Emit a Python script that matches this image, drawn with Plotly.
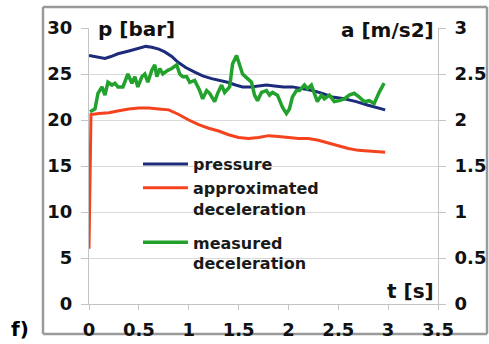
import plotly.graph_objects as go

# ---- data ----
t_pressure = [0.0, 0.1, 0.16, 0.22, 0.29, 0.4, 0.5, 0.57, 0.63, 0.7, 0.76, 0.83, 0.89, 0.97, 1.06, 1.14, 1.23, 1.31, 1.39, 1.47, 1.54, 1.62, 1.7, 1.78, 1.86, 1.95, 2.04, 2.14, 2.24, 2.34, 2.44, 2.56, 2.68, 2.8, 2.9, 2.97]
pressure = [27.0, 26.8, 26.7, 26.9, 27.2, 27.5, 27.8, 28.0, 27.9, 27.7, 27.4, 26.9, 26.3, 25.7, 25.2, 24.8, 24.5, 24.3, 24.1, 23.8, 23.6, 23.6, 23.7, 23.8, 23.7, 23.6, 23.6, 23.4, 23.2, 22.9, 22.5, 22.3, 22.0, 21.6, 21.3, 21.1]

t_approx = [0.0, 0.02, 0.1, 0.2, 0.3, 0.4, 0.5, 0.6, 0.7, 0.8, 0.9, 1.0, 1.1, 1.2, 1.3, 1.4, 1.5, 1.6, 1.7, 1.8, 1.9, 2.0, 2.1, 2.2, 2.3, 2.4, 2.5, 2.6, 2.7, 2.8, 2.9, 2.97]
approx_decel = [0.6, 2.06, 2.07, 2.08, 2.10, 2.12, 2.13, 2.13, 2.12, 2.11, 2.06, 2.00, 1.95, 1.91, 1.88, 1.84, 1.81, 1.80, 1.81, 1.83, 1.82, 1.81, 1.80, 1.80, 1.78, 1.75, 1.72, 1.69, 1.67, 1.66, 1.655, 1.65]

t_measured = [0.01, 0.06, 0.09, 0.13, 0.16, 0.19, 0.23, 0.26, 0.29, 0.34, 0.39, 0.43, 0.46, 0.49, 0.53, 0.56, 0.59, 0.63, 0.66, 0.68, 0.71, 0.74, 0.79, 0.83, 0.88, 0.91, 0.94, 0.98, 1.01, 1.06, 1.11, 1.14, 1.18, 1.21, 1.26, 1.29, 1.33, 1.36, 1.41, 1.44, 1.48, 1.51, 1.54, 1.59, 1.63, 1.66, 1.69, 1.73, 1.78, 1.81, 1.84, 1.89, 1.94, 1.98, 2.01, 2.04, 2.08, 2.11, 2.16, 2.19, 2.23, 2.26, 2.29, 2.33, 2.36, 2.41, 2.46, 2.51, 2.56, 2.61, 2.66, 2.71, 2.76, 2.81, 2.86, 2.91, 2.96]
measured_decel = [2.09, 2.12, 2.29, 2.36, 2.27, 2.41, 2.38, 2.40, 2.36, 2.36, 2.50, 2.40, 2.47, 2.36, 2.47, 2.50, 2.41, 2.54, 2.60, 2.47, 2.56, 2.50, 2.54, 2.56, 2.60, 2.50, 2.47, 2.47, 2.41, 2.43, 2.32, 2.23, 2.32, 2.29, 2.20, 2.29, 2.38, 2.30, 2.36, 2.61, 2.70, 2.60, 2.50, 2.45, 2.41, 2.27, 2.21, 2.30, 2.32, 2.27, 2.30, 2.27, 2.14, 2.07, 2.12, 2.25, 2.32, 2.32, 2.38, 2.34, 2.38, 2.29, 2.20, 2.27, 2.23, 2.27, 2.20, 2.21, 2.23, 2.27, 2.29, 2.25, 2.20, 2.21, 2.18, 2.30, 2.40]

x_ticks = [0, 0.5, 1, 1.5, 2, 2.5, 3, 3.5]
y_ticks = [0, 5, 10, 15, 20, 25, 30]
y2_ticks = [0, 0.5, 1, 1.5, 2, 2.5, 3]

# ---- geometry helpers (pixel -> paper) ----
W, H = 489, 344
L, R, T, B = 89, 438, 28, 304
def px(x):
    return (x - L) / (R - L)
def py(y):
    return (B - y) / (B - T)

FONT = "DejaVu Sans"
GRID = "#d9d9d9"
AXC = "#c4c4c4"

fig = go.Figure()
fig.add_trace(go.Scatter(x=t_pressure, y=pressure, mode="lines", name="pressure",
                         line=dict(color="#1c2b7a", width=3), legendgroup="g1", yaxis="y"))
fig.add_trace(go.Scatter(x=t_approx, y=approx_decel, mode="lines", name="approximated<br>deceleration",
                         line=dict(color="#f4431e", width=3), legendgroup="g1", yaxis="y2"))
fig.add_trace(go.Scatter(x=t_measured, y=measured_decel, mode="lines", name="measured<br>deceleration",
                         line=dict(color="#22a22c", width=3.5), legendgroup="g2", yaxis="y2"))

tickfont = dict(family=FONT, size=18, color="#111111", weight="bold")

fig.update_layout(
    width=W, height=H,
    margin=dict(l=L, r=W - R, t=T, b=H - B, autoexpand=False),
    paper_bgcolor="white", plot_bgcolor="white",
    xaxis=dict(range=[0, 3.5], tickvals=x_ticks, showgrid=False, zeroline=False,
               showline=True, linecolor=AXC, linewidth=1, automargin=False,
               ticks="outside", ticklen=5, tickcolor=AXC, tickfont=tickfont,
               ticklabelstandoff=4),
    yaxis=dict(range=[0, 30], tickvals=y_ticks, showgrid=True, gridcolor=GRID, gridwidth=1,
               zeroline=False, showline=True, linecolor=AXC, linewidth=1, automargin=False,
               ticks="outside", ticklen=7, tickcolor=AXC, tickfont=tickfont,
               ticklabelstandoff=5),
    yaxis2=dict(range=[0, 3], tickvals=y2_ticks, overlaying="y", side="right",
                showgrid=False, zeroline=False, showline=True, linecolor=AXC, linewidth=1,
                automargin=False,
                ticks="outside", ticklen=7, tickcolor=AXC, tickfont=tickfont,
                ticklabelstandoff=5),
    legend=dict(x=px(138), xanchor="left", y=py(147), yanchor="top",
                bgcolor="rgba(0,0,0,0)", borderwidth=0,
                font=dict(family=FONT, size=16, color="#1a1a1a", weight="bold"),
                itemwidth=45, valign="top", tracegroupgap=10, traceorder="grouped"),
    showlegend=True,
)

labfont = dict(family=FONT, size=20, color="#111111", weight="bold")
fig.add_annotation(text="p [bar]", xref="paper", yref="paper", x=px(96), y=py(29),
                   xanchor="left", yanchor="middle", showarrow=False, font=labfont)
fig.add_annotation(text="a [m/s2]", xref="paper", yref="paper", x=px(436), y=py(30),
                   xanchor="right", yanchor="middle", showarrow=False, font=labfont)
fig.add_annotation(text="t [s]", xref="paper", yref="paper", x=px(436), y=py(291),
                   xanchor="right", yanchor="middle", showarrow=False, font=labfont)
fig.add_annotation(text="f)", xref="paper", yref="paper", x=px(20), y=py(329),
                   xanchor="center", yanchor="middle", showarrow=False,
                   font=dict(family=FONT, size=20, color="#000000", weight="bold"))

# outer frame as four line segments
fx0, fx1, fy0, fy1 = px(43), px(487), py(334), py(7)
frame_line = dict(color="#9a9a9a", width=2.5)
for (a0, b0, a1, b1) in [(fx0, fy1, fx1, fy1), (fx0, fy0, fx1, fy0),
                         (fx0, fy0, fx0, fy1), (fx1, fy0, fx1, fy1)]:
    fig.add_shape(type="line", xref="paper", yref="paper", x0=a0, y0=b0, x1=a1, y1=b1,
                  line=frame_line, layer="below")

# white patches hiding the gridlines behind the legend text
for (xa, xb, yy) in [(186, 290, 163), (186, 322, 211), (186, 322, 258)]:
    fig.add_shape(type="rect", xref="paper", yref="paper", x0=px(xa), x1=px(xb),
                  y0=py(yy + 4), y1=py(yy - 4), line=dict(width=0), fillcolor="white",
                  layer="between")

fig.write_html("out.html")
